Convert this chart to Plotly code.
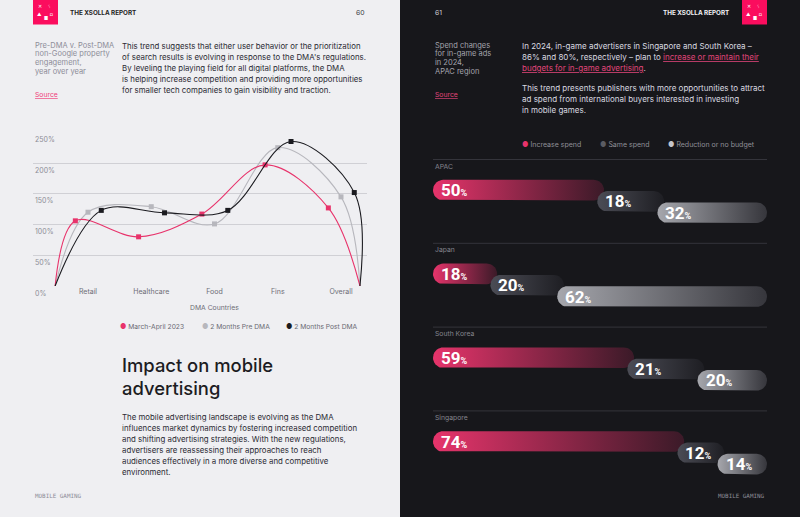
import math
import plotly.graph_objects as go

# ---------------- data ----------------
categories = ["Retail", "Healthcare", "Food", "Fins", "Overall"]
march_april_2023 = [106, 80, 117, 197, 127]
pre_dma = [120, 129, 101, 225, 145]
post_dma = [123, 119, 123, 235, 152]
y_ticks = [0, 50, 100, 150, 200, 250]
y_tick_labels = ["0%", "50%", "100%", "150%", "200%", "250%"]

regions = ["APAC", "Japan", "South Korea", "Singapore"]
increase_spend = [50, 18, 59, 74]
same_spend = [18, 20, 21, 12]
reduction_spend = [32, 62, 20, 14]
spend_names = ["Increase spend", "Same spend", "Reduction or no budget"]

# ---------------- helpers ----------------
W, H = 800, 517
def px(x):
    return x / W
def py(y):
    return 1 - y / H

BODY = "Inter, Roboto, sans-serif"
PINK = "#e8336b"

fig = go.Figure()
ann = []

def text(x, y, t, size=7.6, color="#2a2a32", anchor="left", family=BODY, weight=None, xref="paper", yref="paper", xshift=0, yanchor="middle"):
    f = dict(size=size, color=color, family=family)
    if weight:
        f["weight"] = weight
    ann.append(dict(x=px(x) if xref == "paper" else x, y=py(y) if yref == "paper" else y,
                    xref=xref, yref=yref, text=t, showarrow=False, xanchor=anchor,
                    yanchor=yanchor, font=f, xshift=xshift))

# ---------------- left chart ----------------
cat_px0, cat_step = 88.0, 63.25
x_start, x_end = -0.52, 4.30
series = [
    ("2 Months Pre DMA", pre_dma, 0.0, "#b7b7bd"),
    ("March-April 2023", march_april_2023, -0.2, PINK),
    ("2 Months Post DMA", post_dma, 0.21, "#1b1b20"),
]
for name, vals, off, col in series:
    xs = [x_start] + [i + off for i in range(len(categories))] + [x_end]
    ys = [0] + vals + [0]
    fig.add_trace(go.Scatter(x=xs, y=ys, mode="lines", line=dict(color=col, width=1.1, shape="spline", smoothing=1.0),
                             cliponaxis=False, hoverinfo="skip", showlegend=False, xaxis="x", yaxis="y"))
    fig.add_trace(go.Scatter(x=[i + off for i in range(len(categories))], y=vals, mode="markers",
                             marker=dict(size=5, color=col, symbol="square"), cliponaxis=False,
                             hoverinfo="skip", showlegend=False, xaxis="x", yaxis="y"))

for v, lab in zip(y_ticks, y_tick_labels):
    text(33, v, lab, size=7, color="#8d8d96", xref="paper", yref="y", yanchor="top")
    ann[-1]["yshift"] = -0.5

# ---------------- right bars ----------------
x_l, x_r = 433.0, 767.0
ppu = (x_r - x_l) / 100.0
half_h = 10.3
rx = half_h / ppu
grads = [
    [[0, "#e6346b"], [1, "#3b1a28"]],
    [[0, "#4b4c55"], [1, "#1e1e23"]],
    [[0, "#a6a7ad"], [1, "#36363c"]],
]
sep0, row_h = 159.5, 83.8
bar_dy = [30.6, 41.9, 53.2]

def pill(x0, x1, cy):
    xs, ys = [], []
    for k in range(0, 181, 10):
        t = math.radians(-90 + k)
        xs.append(x1 - rx + rx * math.cos(t)); ys.append(cy + half_h * math.sin(t))
    for k in range(0, 181, 10):
        t = math.radians(90 + k)
        xs.append(x0 + rx + rx * math.cos(t)); ys.append(cy + half_h * math.sin(t))
    xs.append(xs[0]); ys.append(ys[0])
    return xs, ys

shapes = []
shapes.append(dict(type="rect", xref="paper", yref="paper", x0=0.5, x1=1, y0=0, y1=1,
                   fillcolor="#17171b", line=dict(width=0), layer="below"))

for r, reg in enumerate(regions):
    sep = sep0 + row_h * r
    shapes.append(dict(type="line", xref="paper", yref="paper", x0=px(x_l), x1=px(x_r), y0=py(sep), y1=py(sep),
                       line=dict(color="#34343b", width=1), layer="below"))
    text(x_l, sep + 6.5, reg, size=6.8, color="#85858e")
    vals = [increase_spend[r], same_spend[r], reduction_spend[r]]
    cum = 0
    for k, v in enumerate(vals):
        x0 = cum - (0.8 if k > 0 else 0)
        x1 = cum + v + (1.2 if k < 2 else 0)
        cy = sep + bar_dy[k]
        bx, by = pill(x0, x1, cy)
        fig.add_trace(go.Scatter(x=bx, y=by, mode="lines", line=dict(width=0), fill="toself",
                                 fillgradient=dict(type="horizontal", colorscale=grads[k]),
                                 hoverinfo="skip", showlegend=False, xaxis="x2", yaxis="y2"))
        ann.append(dict(x=x0, y=cy, xref="x2", yref="y2", xanchor="left", yanchor="middle", xshift=6,
                        yshift=0, showarrow=False,
                        text=f"<b>{v}</b><span style='font-size:9px'><b>%</b></span>",
                        font=dict(size=17, color="#ffffff", family="Roboto, sans-serif")))
        cum += v

# ---------------- headers / logos ----------------
for lx in (33, 742):
    shapes.append(dict(type="rect", xref="paper", yref="paper", x0=px(lx), x1=px(lx + 25), y0=py(24.5), y1=py(0),
                       fillcolor="#fb0d5e", line=dict(width=0)))
    for (gx, gy, g) in [(7, 6, "✕"), (16, 6, "ᛊ"), (6, 14, "▲"), (12.5, 18.5, "■"), (18, 14, "◘")]:
        text(lx + gx, gy, g, size=4.5, color="#ffffff", anchor="center")

text(68, 12.5, "<b>THE XSOLLA REPORT</b>", size=6.3, color="#1e1e24")
text(367, 12.5, "60", size=6.8, color="#3a3a42", anchor="right")
text(433, 12.5, "61", size=6.8, color="#d0d0d6")
text(731, 12.5, "<b>THE XSOLLA REPORT</b>", size=6.3, color="#f2f2f5", anchor="right")

# ---------------- left page texts ----------------
for i, t in enumerate(["Pre-DMA v. Post-DMA", "non-Google property", "engagement,", "year over year"]):
    text(33, 45 + 8.67 * i, t, size=7.5, color="#8d8d98")
text(33, 94.7, "<u>Source</u>", size=6.8, color="#f0407a")

body1 = ["This trend suggests that either user behavior or the prioritization",
         "of search results is evolving in response to the DMA's regulations.",
         "By leveling the playing field for all digital platforms, the DMA",
         "is helping increase competition and providing more opportunities",
         "for smaller tech companies to gain visibility and traction."]
for i, t in enumerate(body1):
    text(120, 45.7 + 11.1 * i, t, size=7.85, color="#2a2a32")

text(214.3, 307.7, "DMA Countries", size=6.8, color="#6d6d76", anchor="center")

leg_l = [(120, "March-April 2023", PINK), (202.7, "2 Months Pre DMA", "#b7b7bd"), (286.7, "2 Months Post DMA", "#1b1b20")]
for x, lab, col in leg_l:
    text(x, 326.7, f"<span style='color:{col};font-size:7px'>●</span> {lab}", size=6.7, color="#6a6a73", xshift=-2.5)

text(120, 365.0, "Impact on mobile", size=18.4, color="#1c1c22", weight=500)
text(120, 387.6, "advertising", size=18.4, color="#1c1c22", weight=500)

body2 = ["The mobile advertising landscape is evolving as the DMA",
         "influences market dynamics by fostering increased competition",
         "and shifting advertising strategies. With the new regulations,",
         "advertisers are reassessing their approaches to reach",
         "audiences effectively in a more diverse and competitive",
         "environment."]
for i, t in enumerate(body2):
    text(120, 416.7 + 11.1 * i, t, size=7.85, color="#2a2a32")

text(33, 496, "MOBILE GAMING", size=5.9, color="#8d8d98", family="DejaVu Sans Mono, monospace")
text(767, 496, "MOBILE GAMING", size=5.9, color="#8d8d98", family="DejaVu Sans Mono, monospace", anchor="right")

# ---------------- right page texts ----------------
for i, t in enumerate(["Spend changes", "for in-game ads", "in 2024,", "APAC region"]):
    text(433, 45 + 8.67 * i, t, size=7.5, color="#a4a4ad")
text(433, 94.5, "<u>Source</u>", size=6.8, color="#e0457a")

LINK = "#e0457a"
rb = ["In 2024, in-game advertisers in Singapore and South Korea –",
      f"86% and 80%, respectively – plan to <span style='color:{LINK}'><u>increase or maintain their</u></span>",
      f"<span style='color:{LINK}'><u>budgets for in-game advertising</u></span>."]
for i, t in enumerate(rb):
    text(520, 45.7 + 11 * i, t, size=8.0, color="#dadae0")
rb2 = ["This trend presents publishers with more opportunities to attract",
       "ad spend from international buyers interested in investing",
       "in mobile games."]
for i, t in enumerate(rb2):
    text(520, 88.3 + 11 * i, t, size=8.0, color="#dadae0")

leg_r = [(522.3, spend_names[0], PINK), (600.7, spend_names[1], "#5a5b62"), (668, spend_names[2], "#c4c4ca")]
for x, lab, col in leg_r:
    text(x, 144.3, f"<span style='color:{col};font-size:7px'>●</span> {lab}", size=7, color="#8f8f98", xshift=-2.5)

# ---------------- layout ----------------
fig.update_layout(
    width=W, height=H, margin=dict(l=0, r=0, t=0, b=0),
    paper_bgcolor="#efeff2", plot_bgcolor="rgba(0,0,0,0)",
    showlegend=False, shapes=shapes, annotations=ann,
    xaxis=dict(domain=[px(33), px(367)], range=[(33 - cat_px0) / cat_step, (367 - cat_px0) / cat_step],
               tickvals=list(range(len(categories))), ticktext=categories, showgrid=False, zeroline=False,
               showline=False, ticks="", tickfont=dict(size=7, color="#6d6d76", family=BODY), anchor="y",
               fixedrange=True),
    yaxis=dict(domain=[py(286), py(132.3)], range=[0, 250], tickvals=y_ticks, showticklabels=False,
               gridcolor="#d0d0d5", gridwidth=1, zeroline=False, showline=False, anchor="x", fixedrange=True),
    xaxis2=dict(domain=[px(x_l), px(x_r)], range=[0, 100], visible=False, anchor="y2", fixedrange=True),
    yaxis2=dict(domain=[0, 1], range=[H, 0], visible=False, anchor="x2", fixedrange=True),
)

fig.write_html("out.html")
